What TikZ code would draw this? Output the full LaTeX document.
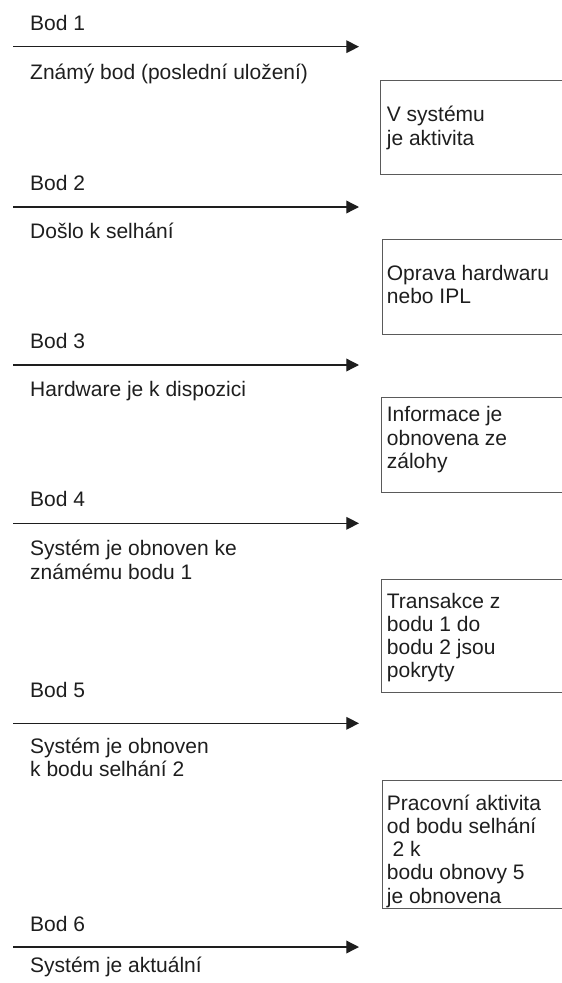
\documentclass[tikz,border=0pt]{standalone}
\usepackage{fontspec}
\setmainfont{Liberation Sans}
\usetikzlibrary{arrows.meta}
\definecolor{boxgray}{RGB}{90,90,90}
\definecolor{ink}{RGB}{30,30,30}
\begin{document}
\begin{tikzpicture}[x=1pt,y=-1pt,
  % multi-line labels are placed by the baseline of their last line
  lbl/.style={anchor=base west, inner sep=0pt, align=left, text=ink,
              font=\fontsize{21}{23.3}\selectfont},
  timeline/.style={draw=ink, line width=1.3pt,
                   -{Triangle[length=12.7pt,width=12.7pt]}},
  infobox/.style={draw=boxgray, line width=0.9pt, anchor=north west,
                  inner sep=0pt, minimum width=240pt}]
\useasboundingbox (0,0) rectangle (562,983);

% time line arrows
\foreach \i/\y in {1/46.7,2/207,3/365,4/523.3,5/723.3,6/947}{
  \coordinate (s\i) at (13,\y);
  \coordinate (e\i) at (359,\y);
  \draw[timeline] (s\i) -- (e\i);
}

% points and their states
\node[lbl] (p1) at (30,30.7) {Bod 1};
\node[lbl] (t1) at (30,79) {Známý bod (poslední uložení)};
\node[lbl] (p2) at (30,190.5) {Bod 2};
\node[lbl] (t2) at (30,238) {Došlo k selhání};
\node[lbl] (p3) at (30,348.5) {Bod 3};
\node[lbl] (t3) at (30,396) {Hardware je k dispozici};
\node[lbl] (p4) at (30,506.7) {Bod 4};
\node[lbl] (t4) at (30,579) {Systém je obnoven ke\\známému bodu 1};
\node[lbl] (p5) at (30,697.3) {Bod 5};
\node[lbl] (t5) at (30,776.7) {Systém je obnoven\\k bodu selhání 2};
\node[lbl] (p6) at (30,931) {Bod 6};
\node[lbl] (t6) at (30,972) {Systém je aktuální};

% activity boxes between the points
\node[infobox, minimum height=94.6pt] (b1) at (380,79.7) {};
\node[infobox, minimum height=95.3pt] (b2) at (381.5,238.7) {};
\node[infobox, minimum height=95pt] (b3) at (381,396.7) {};
\node[infobox, minimum height=112.4pt] (b4) at (381,579.3) {};
\node[infobox, minimum height=128pt] (b5) at (381.5,780) {};

\node[lbl] (a1) at (386.7,145) {V systému\\je aktivita};
\node[lbl] (a2) at (386.7,303.3) {Oprava hardwaru\\nebo IPL};
\node[lbl] (a3) at (386.7,468.3) {Informace je\\obnovena ze\\zálohy};
\node[lbl] (a4) at (386.7,677.9) {Transakce z\\bodu 1 do\\bodu 2 jsou\\pokryty};
\node[lbl] (a5) at (386.7,903.2) {Pracovní aktivita\\od bodu selhání\\\ 2 k\\bodu obnovy 5\\je obnovena};
\end{tikzpicture}
\end{document}
